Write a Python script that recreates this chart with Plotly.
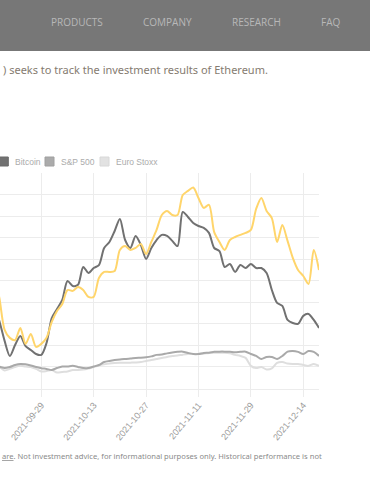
import plotly.graph_objects as go

dates = [
    "2021-09-16", "2021-09-17", "2021-09-20", "2021-09-21", "2021-09-22", "2021-09-23",
    "2021-09-24", "2021-09-27", "2021-09-28",
    "2021-09-29", "2021-09-30", "2021-10-01", "2021-10-04", "2021-10-05", "2021-10-06",
    "2021-10-07", "2021-10-08", "2021-10-11", "2021-10-12",
    "2021-10-13", "2021-10-14", "2021-10-15", "2021-10-18", "2021-10-19", "2021-10-20",
    "2021-10-21", "2021-10-22", "2021-10-25", "2021-10-26",
    "2021-10-27", "2021-10-28", "2021-10-29", "2021-11-01", "2021-11-02", "2021-11-04",
    "2021-11-05", "2021-11-08", "2021-11-09", "2021-11-10",
    "2021-11-11", "2021-11-12", "2021-11-15", "2021-11-16", "2021-11-17", "2021-11-18",
    "2021-11-19", "2021-11-22", "2021-11-23", "2021-11-24",
    "2021-11-29", "2021-11-30", "2021-12-01", "2021-12-02", "2021-12-06", "2021-12-07",
    "2021-12-08", "2021-12-09", "2021-12-10", "2021-12-13",
    "2021-12-14", "2021-12-15", "2021-12-16", "2021-12-17",
]

ethereum = [
    42.7, 32.0, 17.2, 13.5, 12.5, 18.1, 10.7, 15.3, 9.3,
    10.7, 13.5, 20.9, 26.0, 29.2, 35.7, 35.3, 37.1, 35.7, 32.5,
    32.5, 41.3, 44.1, 44.1, 44.5, 54.3, 56.1, 54.3, 55.2, 57.1,
    52.4, 58.0, 63.6, 70.5, 72.4, 70.5, 70.5, 79.8, 81.7, 83.3,
    78.4, 73.8, 75.2, 62.6, 58.0, 54.3, 58.9, 60.3, 61.3, 62.2,
    63.6, 73.3, 78.4, 72.4, 69.1, 58.0, 65.9, 58.5, 50.6, 45.0,
    42.2, 38.5, 54.3, 45.0,
]

bitcoin = [
    28.8, 21.3, 12.1, 5.1, 10.2, 14.4, 9.7, 7.9, 6.0,
    5.6, 11.1, 22.7, 26.9, 31.1, 39.9, 37.6, 38.1, 46.4, 43.6,
    45.9, 47.3, 55.2, 58.0, 63.1, 68.7, 58.9, 55.2, 60.8, 56.6,
    50.1, 55.2, 58.9, 61.3, 60.8, 58.5, 56.1, 71.9, 69.6, 66.8,
    65.4, 64.5, 62.2, 55.2, 53.8, 46.4, 47.8, 44.1, 47.3, 45.9,
    47.8, 45.9, 45.9, 43.6, 35.7, 29.7, 28.3, 21.8, 20.4, 20.0,
    23.7, 24.6, 21.8, 18.1,
]

sp500 = [
    0.5, 0.1, -0.5, 0.0, 0.9, 1.4, 1.2, 0.7, 0.0,
    -0.6, -0.9, -1.4, -0.5, 0.2, 0.2, 0.5, 0.0, -0.5, -0.5,
    0.2, 0.9, 2.3, 2.8, 3.2, 3.5, 3.7, 3.9, 4.2, 4.3,
    4.5, 4.9, 5.6, 5.8, 6.3, 6.7, 7.0, 7.1, 6.5, 6.0,
    6.0, 6.5, 6.6, 7.0, 7.1, 7.1, 7.0, 6.8, 7.0, 7.1,
    6.0, 5.1, 3.7, 4.6, 4.6, 3.7, 5.1, 7.1, 7.4, 7.0,
    6.0, 7.4, 7.0, 5.1,
]

eurostoxx = [
    1.4, 0.1, -1.6, -0.9, 0.0, 0.5, 0.2, 0.0, -0.9,
    -2.1, -1.9, -1.4, -2.6, -2.3, -2.1, -1.4, -1.4, -1.2, -0.7,
    0.0, 0.7, 1.2, 1.6, 1.8, 1.9, 1.9, 2.0, 2.1, 2.3,
    2.8, 3.2, 3.7, 4.2, 4.6, 5.1, 5.3, 5.7, 6.0, 6.0,
    6.0, 6.1, 6.5, 6.6, 6.6, 6.6, 6.3, 5.6, 5.1, 4.2,
    0.5, -0.5, 0.0, -1.2, -0.7, 1.9, 2.3, 1.6, 1.4, 1.4,
    0.9, 0.5, 1.4, 0.5,
]

tick_labels = ["2021-09-29", "2021-10-13", "2021-10-27", "2021-11-11", "2021-11-29", "2021-12-14"]

series_names = ["Ethereum", "Bitcoin", "S&P 500", "Euro Stoxx"]
series_colors = ["#ffd56b", "#717171", "#a9a9a9", "#dedede"]

nav_items = ["PRODUCTS", "COMPANY", "RESEARCH", "FAQ"]
subtitle = ") seeks to track the investment results of Ethereum."
footer = "<u>are</u>. Not investment advice, for informational purposes only. Historical performance is not"

W, H = 370, 490


def px(x):
    return x / W


def py(y):
    return 1 - y / H


fig = go.Figure()
all_series = [ethereum, bitcoin, sp500, eurostoxx]
# draw light series first so Ethereum ends on top
for name, vals, col in reversed(list(zip(series_names, all_series, series_colors))):
    fig.add_trace(go.Scatter(
        x=dates, y=vals, name=name, mode="lines",
        line=dict(color=col, width=2, shape="spline", smoothing=0.8),
        hoverinfo="skip", showlegend=False,
    ))

grid = "#ececec"
fig.update_layout(
    width=W, height=H,
    margin=dict(l=0, r=0, t=0, b=0, autoexpand=False),
    paper_bgcolor="white", plot_bgcolor="white",
    font=dict(family="Liberation Sans, Arial, sans-serif"),
    xaxis=dict(
        type="category", domain=[0, px(319)], range=[1.12, 62.0],
        tickmode="array", tickvals=tick_labels, ticktext=tick_labels,
        tickangle=-50, tickfont=dict(size=9, color="#9a9a9a"),
        showgrid=True, gridcolor=grid, gridwidth=1,
        ticks="outside", ticklen=7, tickcolor=grid,
        showline=True, linecolor=grid, linewidth=1,
        zeroline=False, automargin=False, fixedrange=True,
    ),
    yaxis=dict(
        domain=[py(388.5), py(173)], range=[-10, 90], dtick=10, tick0=0,
        showticklabels=False, showgrid=True, gridcolor=grid, gridwidth=1,
        zeroline=False, showline=False, automargin=False, fixedrange=True,
    ),
)

shapes = [
    dict(type="rect", xref="paper", yref="paper", x0=0, x1=1, y0=py(51), y1=1,
         fillcolor="#777777", line=dict(width=0), layer="above"),
]
annotations = []

nav_x = [49, 141, 230, 319]
for label, x0 in zip(nav_items, nav_x):
    annotations.append(dict(
        text=label, x=px(x0), y=py(22.5), xref="paper", yref="paper",
        xanchor="left", yanchor="middle", showarrow=False,
        font=dict(family="Open Sans, sans-serif", size=10, color="#b8b8b8"),
    ))

annotations.append(dict(
    text=subtitle, x=px(1), y=py(69), xref="paper", yref="paper",
    xanchor="left", yanchor="middle", showarrow=False,
    font=dict(family="Noto Sans, sans-serif", size=11, color="#857b70"),
))

legend_boxes = [(-1, 8.3, "#717171", "#6a6a6a"), (45, 54, "#ababab", "#a0a0a0"), (100, 109, "#e2e2e2", "#d8d8d8")]
legend_text_x = [13, 59, 114]
for (x0, x1, fc, lc), tx, name in zip(legend_boxes, legend_text_x, series_names[1:]):
    shapes.append(dict(type="rect", xref="paper", yref="paper",
                       x0=px(x0), x1=px(x1), y0=py(166), y1=py(157),
                       fillcolor=fc, line=dict(color=lc, width=1)))
    annotations.append(dict(
        text=name, x=px(tx), y=py(161.5), xref="paper", yref="paper",
        xanchor="left", yanchor="middle", showarrow=False,
        font=dict(size=8.5, color="#ababab"),
    ))

annotations.append(dict(
    text=footer, x=px(0), y=py(456), xref="paper", yref="paper",
    xanchor="left", yanchor="middle", showarrow=False,
    font=dict(family="Noto Sans, sans-serif", size=7.6, color="#8a8a8a"),
))

fig.update_layout(shapes=shapes, annotations=annotations)
fig.write_html(
    "out.html",
    config={"displayModeBar": False},
    post_script="document.body.style.margin='0';document.body.style.padding='0';document.body.style.overflow='hidden';",
)
